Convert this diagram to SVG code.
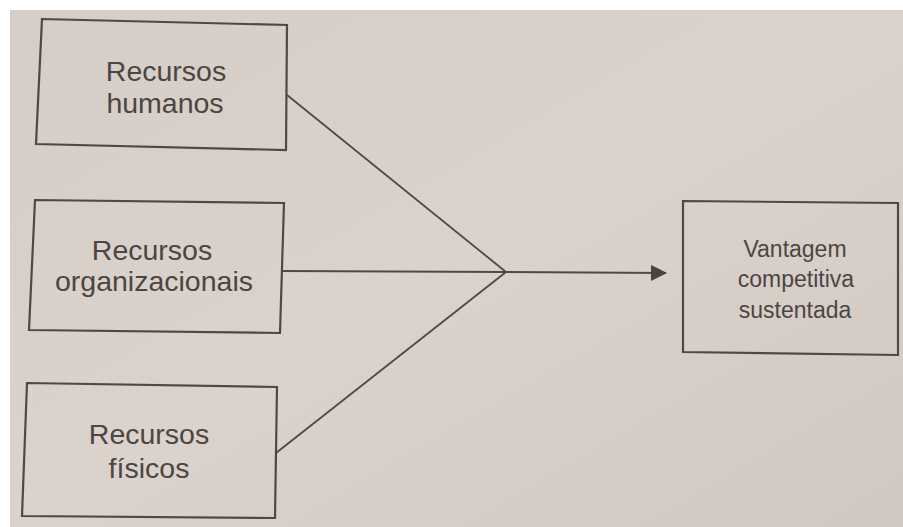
<svg xmlns="http://www.w3.org/2000/svg" width="903" height="527" viewBox="0 0 903 527">
  <defs>
    <linearGradient id="paper" x1="0" y1="0" x2="1" y2="1">
      <stop offset="0" stop-color="#d6cdc6"/>
      <stop offset="0.5" stop-color="#dbd2cc"/>
      <stop offset="1" stop-color="#d1c8c1"/>
    </linearGradient>
    <marker id="arrow" viewBox="0 0 16 16" refX="15" refY="8" markerWidth="16" markerHeight="16" markerUnits="userSpaceOnUse" orient="auto">
      <path d="M0,0 L16,8 L0,16 Z" fill="#4a4441"/>
    </marker>
  </defs>
  <style>
    .box { fill: none; stroke: #4f4945; stroke-width: 2.2; stroke-linejoin: miter; }
    .lbl { font-family: "Liberation Sans", Arial, sans-serif; fill: #4b4643; text-anchor: middle; }
    .big { font-size: 28.5px; }
    .small { font-size: 23px; }
    .conn { fill: none; stroke: #4f4945; stroke-width: 1.8; }
  </style>
  <rect x="0" y="0" width="903" height="527" fill="#ffffff"/>
  <rect x="10" y="10" width="893" height="517" fill="url(#paper)"/>

  <g id="connectors">
    <line class="conn" x1="287" y1="95" x2="506" y2="272"/>
    <line class="conn" x1="283" y1="271" x2="506" y2="272"/>
    <line class="conn" x1="276" y1="453" x2="506" y2="272"/>
    <line class="conn" x1="506" y1="272" x2="666" y2="273" marker-end="url(#arrow)"/>
  </g>

  <g id="recursos-humanos">
    <polygon class="box" points="42,19 287,25 286,150 36,144"/>
    <text class="lbl big" x="166" y="81">Recursos</text>
    <text class="lbl big" x="165" y="113">humanos</text>
  </g>

  <g id="recursos-organizacionais">
    <polygon class="box" points="35,200 284,203 280,333 29,330"/>
    <text class="lbl big" x="152" y="260">Recursos</text>
    <text class="lbl big" x="154" y="291">organizacionais</text>
  </g>

  <g id="recursos-fisicos">
    <polygon class="box" points="27,383 277,387 275,518 22,516"/>
    <text class="lbl big" x="149" y="444">Recursos</text>
    <text class="lbl big" x="149" y="478">físicos</text>
  </g>

  <g id="vantagem-competitiva">
    <polygon class="box" points="683,201 898,203 898,355 683,352"/>
    <text class="lbl small" x="795" y="257">Vantagem</text>
    <text class="lbl small" x="796" y="287">competitiva</text>
    <text class="lbl small" x="795" y="318">sustentada</text>
  </g>
</svg>
